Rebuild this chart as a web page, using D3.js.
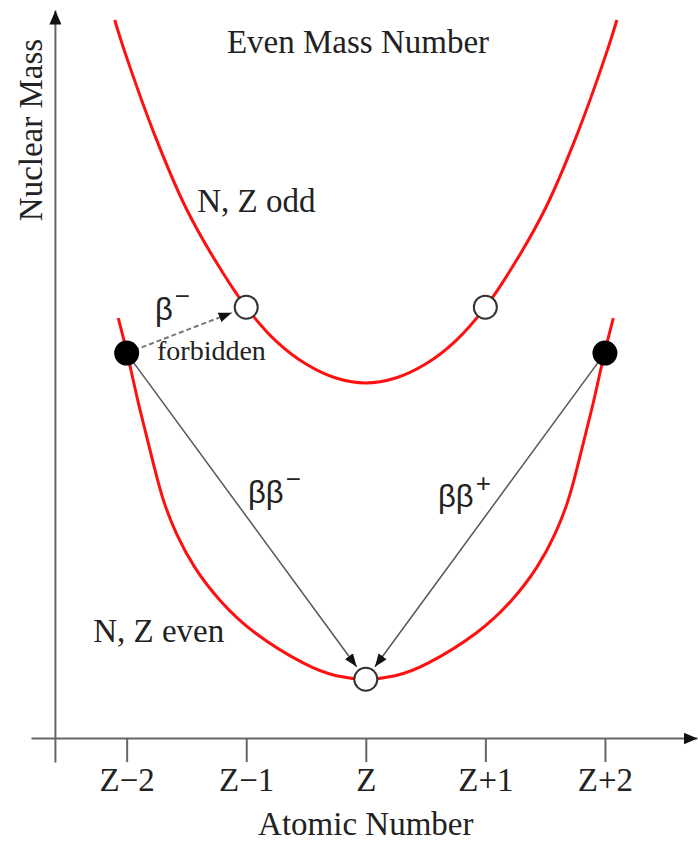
<!DOCTYPE html>
<html>
<head>
<meta charset="utf-8">
<script src="https://cdn.jsdelivr.net/npm/d3@7"></script>
<style>
  html, body { margin: 0; padding: 0; background: #fff; }
  svg { display: block; }
</style>
</head>
<body>
<div id="chart"></div>
<script>
// atomic number offsets and their labels
const zTicks = [-2, -1, 0, 1, 2]
const zLabels = ["Z\u22122", "Z\u22121", "Z", "Z+1", "Z+2"]

// mass parabola for odd-odd nuclei
const oddZ = [-2.10, -2.01, -1.76, -1.51, -1.25, -1.00, -0.75, -0.50, -0.25, 0, 0.25, 0.50, 0.75, 1.00, 1.25, 1.51, 1.76, 2.01, 2.10]
const oddMass = [72.0, 68.6, 60.3, 53.3, 47.7, 43.2, 39.8, 37.5, 36.1, 35.6, 36.1, 37.5, 39.8, 43.2, 47.7, 53.3, 60.3, 68.6, 72.0]

// mass parabola for even-even nuclei
const evenZ = [-2.07, -1.99, -1.91, -1.84, -1.77, -1.70, -1.59, -1.44, -1.23, -0.95, -0.48, -0.25, 0,
    0.25, 0.48, 0.95, 1.23, 1.44, 1.59, 1.70, 1.77, 1.84, 1.91, 1.99, 2.07]
const evenMass = [42.1, 38.4, 33.9, 30.6, 27.2, 23.9, 20.5, 17.1, 13.8, 10.5, 7.1, 6.15, 5.8,
    6.15, 7.1, 10.5, 13.8, 17.1, 20.5, 23.9, 27.2, 30.6, 33.9, 38.4, 42.1]

// nuclei sitting on the parabolas
const nucleusZ = [-2, -1, 0, 1, 2]
const nucleusMass = [38.6, 43.2, 5.9, 43.2, 38.6]
const nucleusFilled = [true, false, false, false, true]

// decays: [from index, to index, dashed]
const decays = [[0, 1, true], [0, 2, false], [4, 2, false]]

const W = 698, H = 841
const serif = "'Liberation Serif', 'Times New Roman', serif"
const sans = "'Liberation Sans', Arial, sans-serif"
const R = 11.5

const x = d3.scaleLinear().domain([-2.8, 2.77]).range([31, 697])
const y = d3.scaleLinear().domain([-2.4, 73]).range([762, 10])

const svg = d3.select("#chart").append("svg").attr("width", W).attr("height", H)

const defs = svg.append("defs")
addMarker("axisHead", 14, 12, "#111")
addMarker("decayHead", 13, 10, "#111")

function addMarker(id, len, wid, color) {
    defs.append("marker").attr("id", id)
        .attr("markerUnits", "userSpaceOnUse")
        .attr("viewBox", `0 0 ${len} ${wid}`)
        .attr("refX", len).attr("refY", wid / 2)
        .attr("markerWidth", len).attr("markerHeight", wid)
        .attr("orient", "auto")
        .append("path").attr("d", `M0,0L${len},${wid / 2}L0,${wid}Z`).attr("fill", color)
}

// axes
const xAxis = svg.append("g").attr("transform", `translate(0,${y(0)})`)
    .call(d3.axisBottom(x).tickValues(zTicks).tickFormat((d, i) => zLabels[i]).tickSize(24).tickSizeOuter(0).tickPadding(6))
const yAxis = svg.append("g").attr("transform", `translate(${x(-2.6)},0)`)
    .call(d3.axisLeft(y).tickValues([]).tickSizeOuter(0))

svg.selectAll(".domain, .tick line").attr("stroke", "#666").attr("stroke-width", 2)
xAxis.select(".domain").attr("marker-end", "url(#axisHead)")
yAxis.select(".domain").attr("marker-end", "url(#axisHead)")
xAxis.selectAll(".tick text").attr("font-family", serif).attr("font-size", 33).attr("fill", "#222")

svg.append("text").attr("x", x(0)).attr("y", 835).attr("text-anchor", "middle")
    .attr("font-family", serif).attr("font-size", 33).attr("fill", "#222").text("Atomic Number")
svg.append("text").attr("transform", `translate(42,130) rotate(-90)`).attr("text-anchor", "middle")
    .attr("font-family", serif).attr("font-size", 33).attr("fill", "#222").text("Nuclear Mass")

// parabolas
const oddLine = d3.line().x(d => x(d[0])).y(d => y(d[1])).curve(d3.curveCatmullRom.alpha(0.5))
const evenLine = d3.line().x(d => x(d[0])).y(d => y(d[1])).curve(d3.curveBasis)
const curves = [oddLine(d3.zip(oddZ, oddMass)), evenLine(d3.zip(evenZ, evenMass))]
svg.append("g").selectAll("path").data(curves).join("path")
    .attr("d", d => d).attr("fill", "none").attr("stroke", "#ff1010").attr("stroke-width", 3)

// decay arrows, shortened so the head stops at the target circle
svg.append("g").selectAll("line").data(decays).join("line")
    .each(function (d) {
        const x1 = x(nucleusZ[d[0]]), y1 = y(nucleusMass[d[0]]),
            x2 = x(nucleusZ[d[1]]), y2 = y(nucleusMass[d[1]]),
            len = Math.hypot(x2 - x1, y2 - y1),
            k = (len - R - 4) / len
        d3.select(this).attr("x1", x1).attr("y1", y1)
            .attr("x2", x1 + (x2 - x1) * k).attr("y2", y1 + (y2 - y1) * k)
    })
    .attr("stroke", d => d[2] ? "#777" : "#555")
    .attr("stroke-width", d => d[2] ? 2 : 1.5)
    .attr("stroke-dasharray", d => d[2] ? "5,3" : null)
    .attr("marker-end", "url(#decayHead)")

// nuclei
svg.append("g").selectAll("circle").data(nucleusZ).join("circle")
    .attr("cx", d => x(d)).attr("cy", (d, i) => y(nucleusMass[i])).attr("r", R)
    .attr("fill", (d, i) => nucleusFilled[i] ? "#000" : "#fff")
    .attr("stroke", (d, i) => nucleusFilled[i] ? "#000" : "#333").attr("stroke-width", 2)

// annotations
const plainLabels = [
    { z: -0.065, m: 68.7, text: "Even Mass Number", anchor: "middle", size: 33 },
    { z: -1.41, m: 52.75, text: "N, Z odd", anchor: "start", size: 33 },
    { z: -2.28, m: 9.63, text: "N, Z even", anchor: "start", size: 33 },
    { z: -1.746, m: 37.9, text: "forbidden", anchor: "start", size: 28 }
]
svg.append("g").selectAll("text").data(plainLabels).join("text")
    .attr("x", d => x(d.z)).attr("y", d => y(d.m)).attr("text-anchor", d => d.anchor)
    .attr("font-family", serif).attr("font-size", d => d.size).attr("fill", "#222").text(d => d.text)

const betaLabels = [
    { z: -1.763, m: 41.9, base: "\u03b2", sup: "\u2212" },
    { z: -0.985, m: 23.57, base: "\u03b2\u03b2", sup: "\u2212" },
    { z: 0.604, m: 23.17, base: "\u03b2\u03b2", sup: "+" }
]
const beta = svg.append("g").selectAll("text").data(betaLabels).join("text")
    .attr("x", d => x(d.z)).attr("y", d => y(d.m))
    .attr("font-family", sans).attr("font-size", 31).attr("fill", "#222")
beta.append("tspan").text(d => d.base)
beta.append("tspan").attr("dx", 2).attr("dy", -15).attr("font-size", 26).text(d => d.sup)
</script>
</body>
</html>
